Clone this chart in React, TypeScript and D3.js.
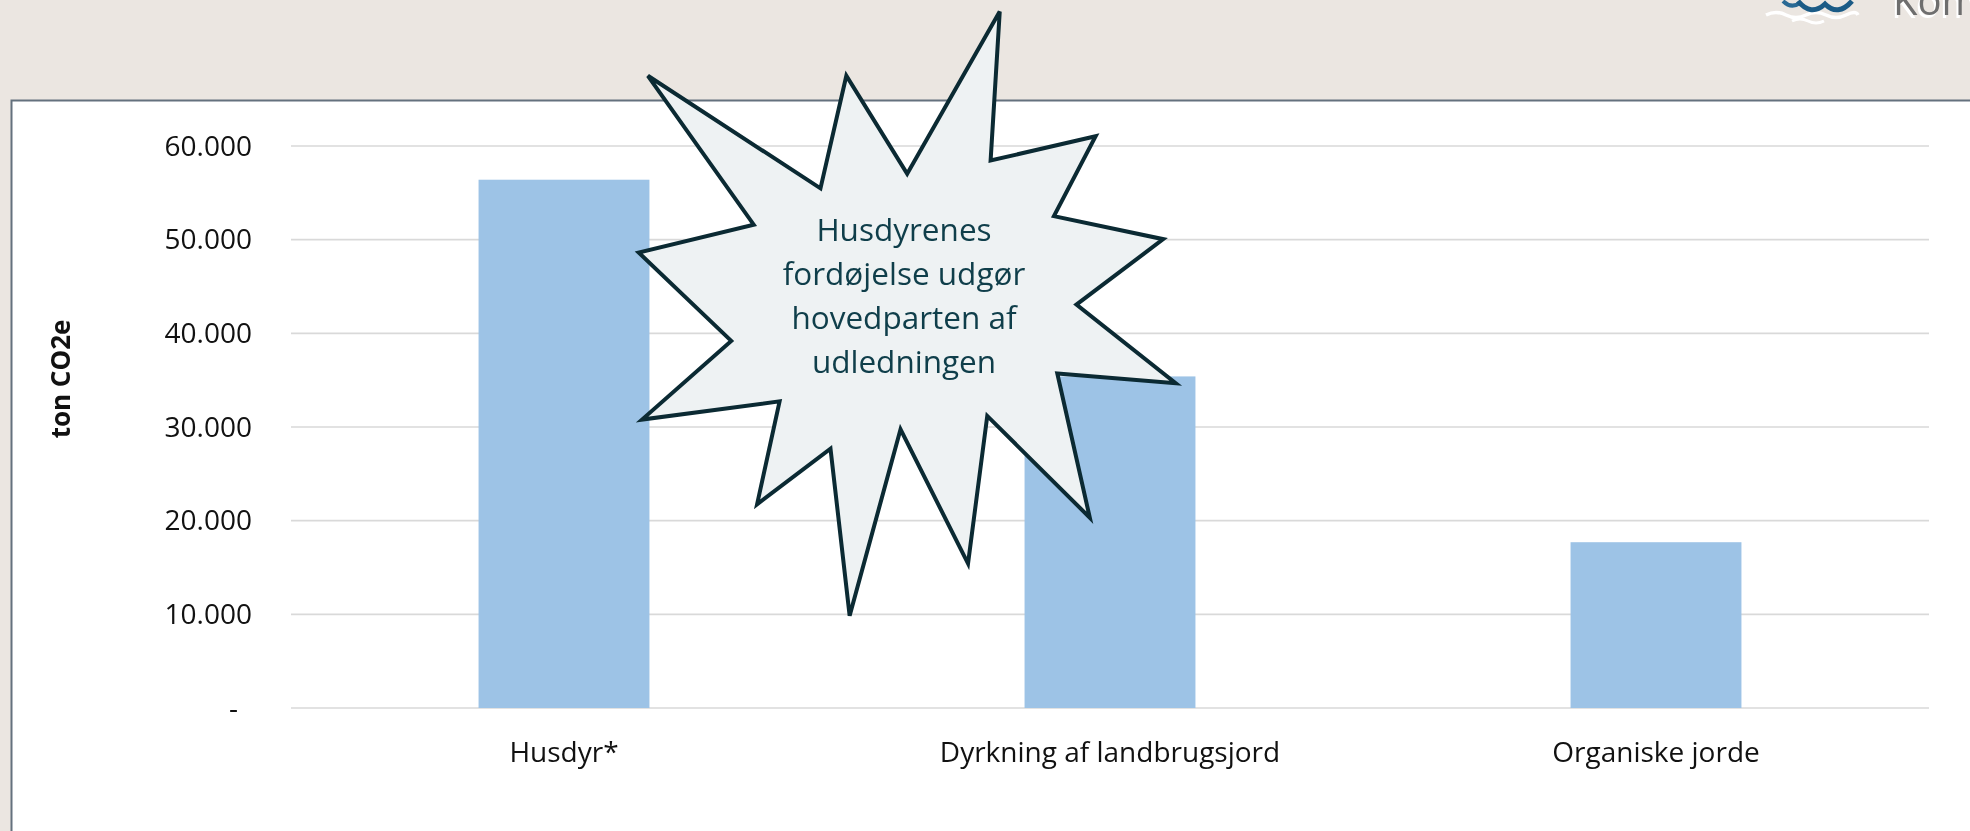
import React from "react";
import * as d3 from "d3";

const categories = ["Husdyr*", "Dyrkning af landbrugsjord", "Organiske jorde"];
const values = [56400, 35400, 17700];
const yTicks = [0, 10000, 20000, 30000, 40000, 50000, 60000];
const yTitle = "ton CO2e";
const calloutLines = ["Husdyrenes", "fordøjelse udgør", "hovedparten af", "udledningen"];
// PowerPoint "irregularSeal1" (Explosion 1) preset outline, in its 21600 unit box
const starVertices: [number, number][] = [
  [10800, 5800], [14522, 0], [14155, 5325], [18380, 4457], [16702, 7315],
  [21097, 8137], [17607, 10475], [21600, 13290], [16837, 12942], [18145, 18095],
  [14020, 14457], [13247, 19737], [10532, 14935], [8485, 21600], [7715, 15627],
  [4762, 17617], [5667, 13937], [135, 14587], [3722, 11775], [0, 8615],
  [4627, 7617], [370, 2295], [7312, 6320], [8352, 2295],
];

const W = 1970;
const H = 831;
const FONT = "'Open Sans', 'DejaVu Sans', sans-serif";

const da = d3.formatLocale({ decimal: ",", thousands: ".", grouping: [3], currency: ["", " kr"] });
const fmt = da.format(",");

export default function App() {
  const x = d3.scaleBand<string>().domain(categories).range([291, 1929]).paddingInner(0.687).paddingOuter(0.3435);
  const y = d3.scaleLinear().domain([0, 60000]).range([708, 146]);
  const sx = d3.scaleLinear().domain([0, 21600]).range([638.7, 1175.7]);
  const sy = d3.scaleLinear().domain([0, 21600]).range([11.6, 615.7]);
  const line = d3.line<[number, number]>().x((d) => sx(d[0])).y((d) => sy(d[1]));
  const starPath = line(starVertices) + "Z";
  const [x0, x1] = x.range();

  return (
    <svg
      width={W}
      height={H}
      viewBox={`0 0 ${W} ${H}`}
      style={{ position: "fixed", left: 0, top: 0, display: "block" }}
      fontFamily={FONT}
    >
      <rect x={0} y={0} width={W} height={H} fill="#ebe6e1" />
      <rect x={11.5} y={100.5} width={W + 20} height={H} fill="#ffffff" stroke="#64717e" strokeWidth={2} />

      {/* logo fragment */}
      <g>
        <path d="M1766,15 q10,-5 20,0 t20,0 t20,0 t20,0 t12,0" fill="none" stroke="#ffffff" strokeWidth={3.5} />
        <path d="M1792,21 q8,-4 16,0 t16,0" fill="none" stroke="#ffffff" strokeWidth={3} />
        <path d="M1783,1 Q1791,9 1800,3" fill="none" stroke="#2a6a95" strokeWidth={4} />
        <path d="M1798,1 Q1811,17 1825,4 Q1838,17 1852,1" fill="none" stroke="#1b5b86" strokeWidth={5} />
        <text x={1891} y={18} fontSize={40} fill="#ffffff">Kommune</text>
        <text x={1893} y={15} fontSize={40} fill="#6e6e6e">Kommune</text>
      </g>

      {/* gridlines */}
      {yTicks.map((t) => (
        <line key={t} x1={x0} x2={x1} y1={y(t)} y2={y(t)} stroke="#d9d9d9" strokeWidth={1.6} />
      ))}

      {/* bars */}
      {categories.map((c, i) => (
        <rect key={c} x={x(c)} y={y(values[i])} width={x.bandwidth()} height={y(0) - y(values[i])} fill="#9dc3e6" />
      ))}

      {/* y tick labels */}
      {yTicks.map((t) => (
        <text key={t} x={t === 0 ? 238 : 252} y={y(t) + 9.5} textAnchor="end" fontSize={28} fill="#111111">
          {t === 0 ? "-" : fmt(t)}
        </text>
      ))}

      {/* category labels */}
      {categories.map((c) => (
        <text key={c} x={(x(c) as number) + x.bandwidth() / 2} y={762} textAnchor="middle" fontSize={28} fill="#111111">
          {c}
        </text>
      ))}

      {/* y title */}
      <text transform="translate(70,379) rotate(-90)" textAnchor="middle" fontSize={26} fontWeight="bold" fill="#111111">
        {yTitle}
      </text>

      {/* callout */}
      <path d={starPath} fill="#eef2f3" stroke="#0b2a33" strokeWidth={4} strokeLinejoin="miter" />
      {calloutLines.map((l, i) => (
        <text key={l} x={904} y={240.5 + i * 44.3} textAnchor="middle" fontSize={31.5} fill="#0f3e4a">
          {l}
        </text>
      ))}
    </svg>
  );
}
